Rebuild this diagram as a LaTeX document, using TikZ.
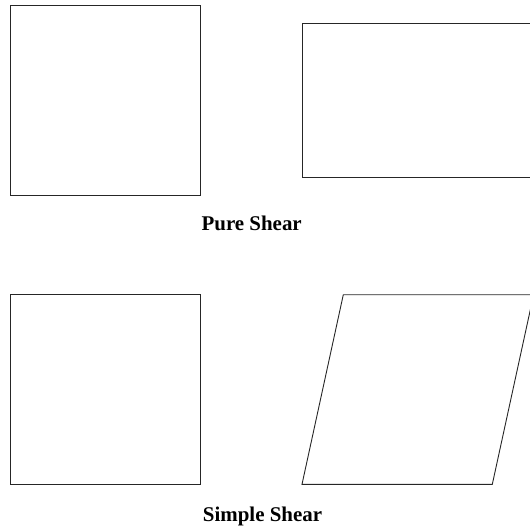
\documentclass[tikz,border=0pt]{standalone}
\usepackage{fontspec}
\setmainfont{Liberation Serif}
\begin{document}
\begin{tikzpicture}[x={(1bp,0bp)},y={(0bp,-1bp)},outline/.style={draw=black!85,line width=0.9bp},caption/.style={anchor=base,inner sep=0pt,font=\fontsize{21}{25}\selectfont\bfseries}]
\useasboundingbox (0,0) rectangle (530,527);
\clip (0,0) rectangle (530,527);
% pure shear
\draw[outline] (10.7,5.3) rectangle (200.3,195);
\draw[outline] (302,23.3) rectangle (535,177.7);
\node[caption] (pure) at (251.7,230.5) {Pure Shear};
% simple shear
\draw[outline] (10.7,294.7) rectangle (200.3,484.3);
\draw[outline] (302,484.3) -- (492.3,484.3) -- (533.6,294.7) -- (343.3,294.7) -- cycle;
\node[caption] (simple) at (262.5,521.7) {Simple Shear};
\end{tikzpicture}
\end{document}
